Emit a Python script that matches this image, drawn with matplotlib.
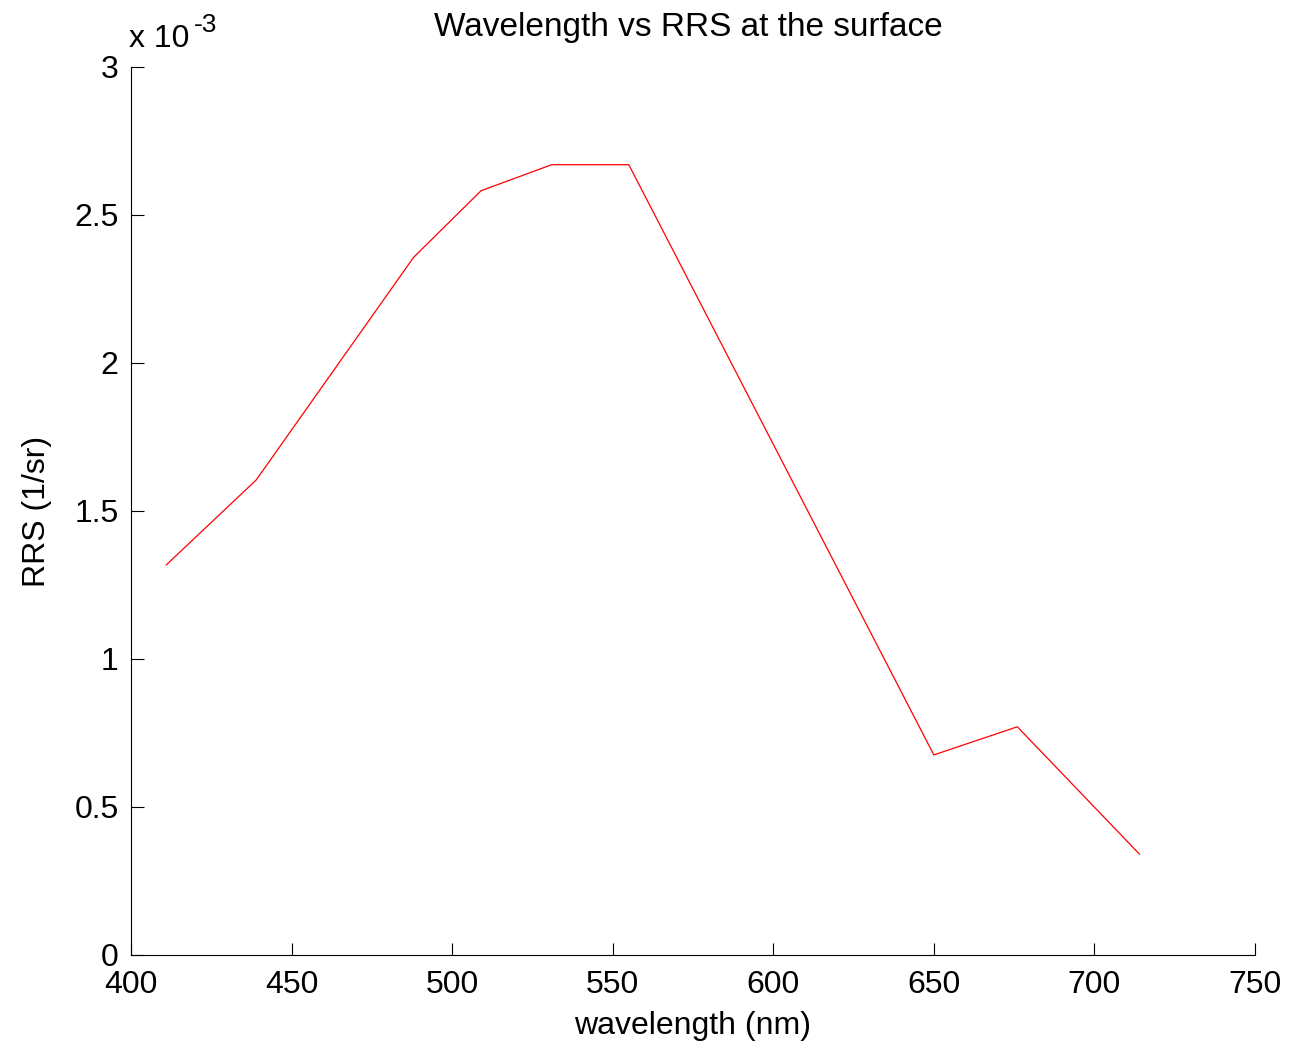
import matplotlib
matplotlib.use("Agg")
import matplotlib.pyplot as plt
from matplotlib.ticker import FuncFormatter

wavelength = [411, 439, 488, 509, 531, 555, 650, 676, 714]
rrs = [1.318e-3, 1.605e-3, 2.357e-3, 2.582e-3, 2.670e-3, 2.670e-3, 0.676e-3, 0.771e-3, 0.341e-3]
xticks = [400, 450, 500, 550, 600, 650, 700, 750]
yticks = [0, 0.5e-3, 1.0e-3, 1.5e-3, 2.0e-3, 2.5e-3, 3.0e-3]

plt.rcParams['font.family'] = ['Liberation Sans', 'DejaVu Sans']

W, H = 1289, 1047
fig = plt.figure(figsize=(W / 100, H / 100), dpi=100)
ax = fig.add_axes([131 / W, 92 / H, 1124 / W, 888 / H])
ax.plot(wavelength, rrs, color='red', linewidth=0.9)
ax.set_xlim(400, 750)
ax.set_ylim(0, 3e-3)
ax.set_xticks(xticks)
ax.set_yticks(yticks)
ax.yaxis.set_major_formatter(FuncFormatter(lambda v, p: ('%g' % (v * 1e3))))
ax.spines['top'].set_visible(False)
ax.spines['right'].set_visible(False)
for s in ('left', 'bottom'):
    ax.spines[s].set_linewidth(0.8)
ax.tick_params(direction='in', length=9, width=0.8, labelsize=23)
ax.tick_params(axis='x', pad=11)
ax.tick_params(axis='y', pad=9)
ax.set_xlabel('wavelength (nm)', fontsize=23, labelpad=8)
ax.set_ylabel('RRS (1/sr)', fontsize=23, labelpad=16)
ax.set_title('Wavelength vs RRS at the surface', fontsize=24, pad=22, x=0.496)
fig.text(129 / W, 1 - 47 / H, 'x 10', fontsize=23, va='baseline', ha='left')
fig.text(194 / W, 1 - 32 / H, '-3', fontsize=19, va='baseline', ha='left')
fig.savefig('out.png', dpi=100, facecolor='white')
